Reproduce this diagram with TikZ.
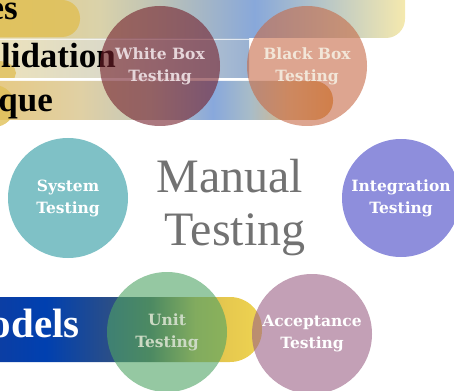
\documentclass[tikz,border=0pt]{standalone}
\usepackage{fontspec}
\setmainfont{Liberation Serif}
\newfontfamily\bubblefont{DejaVu Serif}
\usetikzlibrary{shapes,positioning}

\definecolor{wbfill}{RGB}{115,30,42}
\definecolor{bbfill}{RGB}{198,105,70}
\definecolor{stfill}{RGB}{42,152,160}
\definecolor{itfill}{RGB}{66,66,197}
\definecolor{utfill}{RGB}{78,163,100}
\definecolor{atfill}{RGB}{155,97,133}
\definecolor{wbtext}{HTML}{E6D6DA}
\definecolor{bbtext}{HTML}{F2E6D8}
\definecolor{uttext}{HTML}{CCDAC4}
\definecolor{mgray}{HTML}{727272}
\definecolor{pill}{HTML}{E0C058}

\definecolor{ba0}{HTML}{E4CC80}
\definecolor{ba1}{HTML}{E2CE8A}
\definecolor{ba2}{HTML}{DAD2AA}
\definecolor{ba3}{HTML}{BCC2B6}
\definecolor{ba4}{HTML}{88A8DA}
\definecolor{ba5}{HTML}{B4C4C8}
\definecolor{ba6}{HTML}{F5E9AE}
\pgfdeclarehorizontalshading{barA}{100bp}{color(0bp)=(ba0); color(25bp)=(ba0);
  color(29.5bp)=(ba1); color(40.7bp)=(ba2); color(47.5bp)=(ba3);
  color(58.1bp)=(ba4); color(65.4bp)=(ba5); color(75bp)=(ba6); color(100bp)=(ba6)}

\definecolor{bb0}{HTML}{EADFB8}
\definecolor{bb1}{HTML}{ECE2BC}
\definecolor{bb2}{HTML}{DCDAC8}
\definecolor{bb3}{HTML}{C4CCD0}
\definecolor{bb4}{HTML}{9AB2D2}
\pgfdeclarehorizontalshading{barB}{100bp}{color(0bp)=(bb0); color(25bp)=(bb0);
  color(31.9bp)=(bb1); color(49.1bp)=(bb2); color(59.5bp)=(bb3);
  color(75bp)=(bb4); color(100bp)=(bb4)}

\definecolor{bc0}{HTML}{E6C880}
\definecolor{bc1}{HTML}{E6CA86}
\definecolor{bc2}{HTML}{E0D0A4}
\definecolor{bc3}{HTML}{C4C8BC}
\definecolor{bc4}{HTML}{88A8DC}
\definecolor{bc5}{HTML}{A8BCC8}
\definecolor{bc6}{HTML}{D8B888}
\definecolor{bc7}{HTML}{E2A050}
\pgfdeclarehorizontalshading{barC}{100bp}{color(0bp)=(bc0); color(25bp)=(bc0);
  color(30.4bp)=(bc1); color(41.1bp)=(bc2); color(50.5bp)=(bc3);
  color(58.9bp)=(bc4); color(63.9bp)=(bc5); color(69.2bp)=(bc6);
  color(75bp)=(bc7); color(100bp)=(bc7)}

\definecolor{bd0}{HTML}{0A3A98}
\definecolor{bd1}{HTML}{0B3EA4}
\definecolor{bd2}{HTML}{0040B0}
\definecolor{bd3}{HTML}{2A4E88}
\definecolor{bd4}{HTML}{4A6460}
\definecolor{bd5}{HTML}{D0B858}
\definecolor{bd6}{HTML}{E6C84E}
\definecolor{bd7}{HTML}{EED452}
\pgfdeclarehorizontalshading{barD}{100bp}{color(0bp)=(bd0); color(25bp)=(bd0);
  color(31.6bp)=(bd1); color(39.1bp)=(bd2); color(49.8bp)=(bd3);
  color(56.5bp)=(bd4); color(63.9bp)=(bd5); color(68.9bp)=(bd6);
  color(75bp)=(bd7); color(100bp)=(bd7)}

\begin{document}
\begin{tikzpicture}[x=1pt, y=-1pt,
    bubble/.style={circle, minimum size=120pt, inner sep=0pt, fill opacity=0.6,
      text opacity=1, align=center, font=\bubblefont\bfseries\fontsize{15.5}{22}\selectfont},
    tag/.style={anchor=base east, inner sep=0pt, font=\bfseries\fontsize{35}{38}\selectfont},
    big/.style={anchor=base, text=mgray, font=\fontsize{48}{53}\selectfont}]
  \useasboundingbox (0,0) rectangle (454,390);
  \clip (0,0) rectangle (454,390);
  % menu bars behind
  \shade[shading=barA, rounded corners=19pt] (-40,-20) rectangle (405,38);
  \fill[pill, opacity=0.85, rounded corners=18pt] (-40,0) rectangle (80,37);
  \shade[shading=barB] (-40,39) rectangle (249,78);
  \fill[pill, opacity=0.8] (-2,73) ellipse (18 and 12);
  \draw[white, opacity=0.7] (-40,39) -- (249,39);
  \draw[white, line width=3pt] (-40,79.5) -- (248,79.5);
  \shade[shading=barC, rounded corners=19pt] (-40,81) rectangle (333,120);
  \fill[pill, opacity=0.8] (-6,106) circle (21);
  \shade[shading=barD, rounded corners=32pt] (-40,297) rectangle (262,362);
  \node[tag] (es) at (18,20) {es};
  \node[tag] (lid) at (116,68) {lidation};
  \node[tag] (que) at (53,112) {que};
  \node[tag, text=white, font=\bfseries\fontsize{41}{44}\selectfont] (mod) at (80,337) {odels};
  % circles
  \node[bubble, fill=wbfill, text=wbtext] (WB) at (160,66) {White Box\\Testing};
  \node[bubble, fill=bbfill, text=bbtext] (BB) at (307,66) {Black Box\\Testing};
  \node[bubble, fill=stfill, text=white] (ST) at (68,198) {System\\Testing};
  \node[bubble, fill=itfill, text=white, minimum size=118pt] (IT) at (401,198) {Integration\\Testing};
  \node[bubble, fill=utfill, text=uttext] (UT) at (167,332) {Unit\\Testing};
  \node[bubble, fill=atfill, text=white] (AT) at (312,334) {Acceptance\\Testing};
  % title
  \node[big] (MT) at (230,192) {Manual};
  \node[big] (MT2) at (235,245) {Testing};
\end{tikzpicture}
\end{document}
